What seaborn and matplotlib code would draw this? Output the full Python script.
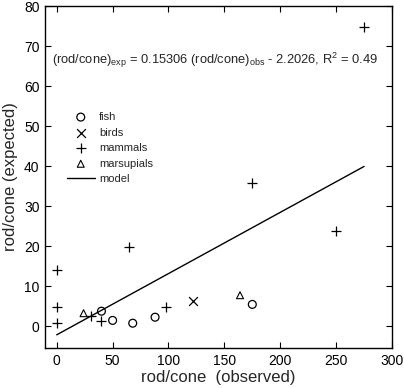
import matplotlib
matplotlib.use("Agg")
import matplotlib.pyplot as plt
import numpy as np
import seaborn as sns

# observed vs expected rod/cone ratio, per group
fish_obs = [40, 50, 68, 88, 175]
fish_exp = [3.7, 1.4, 0.7, 2.2, 5.4]
birds_obs = [122]
birds_exp = [6.2]
mammals_obs = [0, 0, 0, 31, 40, 65, 98, 175, 250, 275]
mammals_exp = [14, 4.7, 0.8, 2.5, 1.3, 19.8, 4.8, 35.8, 23.8, 74.8]
marsupials_obs = [24, 164]
marsupials_exp = [3.2, 7.7]

slope = 0.15306
intercept = -2.2026
r2 = 0.49

sns.set_style("ticks")
plt.rcParams["font.family"] = ["Liberation Sans", "DejaVu Sans"]
plt.rcParams["mathtext.default"] = "regular"

fig = plt.figure(figsize=(4.04, 3.88), dpi=100)
ax = fig.add_axes([45 / 404, 1 - 348 / 388, 347 / 404, 342 / 388])

sns.scatterplot(x=fish_obs, y=fish_exp, marker="o", s=32, facecolor="none",
                edgecolor="black", linewidth=0.9, label="fish", ax=ax)
sns.scatterplot(x=birds_obs, y=birds_exp, marker="x", s=40, color="black",
                linewidth=0.9, label="birds", ax=ax)
sns.scatterplot(x=mammals_obs, y=mammals_exp, marker="+", s=45, color="black",
                linewidth=0.9, label="mammals", ax=ax)
sns.scatterplot(x=marsupials_obs, y=marsupials_exp, marker="^", s=25,
                facecolor="none", edgecolor="black", linewidth=0.8,
                label="marsupials", ax=ax)

all_obs = np.array(fish_obs + birds_obs + mammals_obs + marsupials_obs)
xs = np.array([all_obs.min(), all_obs.max()])
sns.lineplot(x=xs, y=slope * xs + intercept, color="black", linewidth=1.0,
             label="model", ax=ax)

ax.set_xlim(-10.5, 300)
ax.set_ylim(-5.5, 80)
ax.set_xticks([0, 50, 100, 150, 200, 250, 300])
ax.set_yticks([0, 10, 20, 30, 40, 50, 60, 70, 80])
ax.tick_params(direction="in", top=True, right=True, length=4, width=0.8,
               labelsize=10, colors="black", pad=4)
for s in ax.spines.values():
    s.set_linewidth(1.0)
    s.set_color("black")

ax.set_xlabel("rod/cone  (observed)", fontsize=12, labelpad=2)
ax.set_ylabel("rod/cone (expected)", fontsize=12, labelpad=4)

ax.text(0.019, 0.842,
        r"(rod/cone)$_{exp}$ = %.5f (rod/cone)$_{obs}$ - %.4f, R$^{2}$ = %.2f"
        % (slope, -intercept, r2),
        transform=ax.transAxes, fontsize=9.3, va="center", ha="left")

ax.legend(loc="upper left", bbox_to_anchor=(0.063, 0.69), frameon=False,
          fontsize=8, handlelength=2.5, handletextpad=0.4, labelspacing=0.5,
          borderpad=0, borderaxespad=0)

fig.savefig("out.png", dpi=100)
